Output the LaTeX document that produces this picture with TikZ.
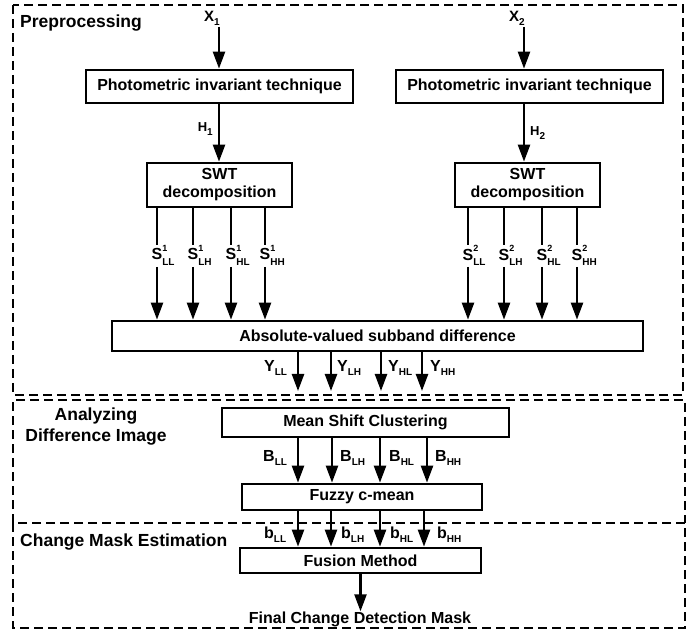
\documentclass[tikz,border=0pt]{standalone}
\usepackage{fontspec}
\setmainfont{Liberation Sans}
\usetikzlibrary{arrows.meta}
\newcommand\subl[2]{#1\raisebox{-0.5ex}{\fontsize{10}{10}\selectfont #2}}
\newcommand\ssl[3]{#1\rlap{\rlap{\raisebox{1.05ex}{\fontsize{9}{9}\selectfont #2}}\raisebox{-0.6ex}{\fontsize{10}{10}\selectfont #3}}}
\tikzset{
  blk/.style={draw, line width=2.7pt, font=\fontsize{16}{18}\selectfont\bfseries, inner sep=0pt, align=center},
  arr/.style={line width=2.4pt, -{Triangle[length=17pt,width=12pt]}},
  ln/.style={line width=2.4pt},
  zone/.style={draw, line width=1.3pt, dash pattern=on 9pt off 5pt},
  ttl/.style={font=\fontsize{17.5}{21}\selectfont\bfseries, inner sep=0pt, align=center},
  lab/.style={font=\fontsize{16}{18}\selectfont\bfseries, inner sep=0pt},
  inp/.style={font=\fontsize{15}{17}\selectfont\bfseries, inner sep=0pt},
  small/.style={font=\fontsize{13}{15}\selectfont\bfseries, inner sep=0pt},
}
\begin{document}
\begin{tikzpicture}[x=1pt,y=-1pt]
\useasboundingbox (0,0) rectangle (697,631);
% zones
\draw[zone] (13,5) rectangle (683,395);
\draw[zone] (13,523) -- (13,400) -- (685,400) -- (685,523);
\draw[zone] (13,523) rectangle (685,628);
\node[ttl, anchor=west] (tpre) at (20,23) {Preprocessing};
\node[ttl] (tana) at (96,427) {Analyzing\\Difference Image};
\node[ttl, anchor=west] (tcme) at (20,542) {Change Mask Estimation};
% boxes
\node[blk, minimum width=267pt, minimum height=33pt] (pit1) at (219.5,86.5) {Photometric invariant technique};
\node[blk, minimum width=267pt, minimum height=33pt] (pit2) at (529.5,86.5) {Photometric invariant technique};
\node[blk, minimum width=145pt, minimum height=44pt] (swt1) at (219.5,185) {SWT\\decomposition};
\node[blk, minimum width=145pt, minimum height=44pt] (swt2) at (527.5,185) {SWT\\decomposition};
\node[blk, minimum width=531pt, minimum height=30pt] (abs) at (377.5,336) {Absolute-valued subband difference};
\node[blk, minimum width=287pt, minimum height=29pt] (msc) at (365.5,422.5) {Mean Shift Clustering};
\node[blk, minimum width=240pt, minimum height=26pt] (fcm) at (362,497) {Fuzzy c-mean};
\node[blk, minimum width=241pt, minimum height=25pt] (fus) at (360.5,560.5) {Fusion Method};
\node[lab] (final) at (360,619) {Final Change Detection Mask};
% inputs
\node[inp, anchor=east] (x1) at (220,18) {\subl{X}{1}};
\node[inp, anchor=east] (x2) at (525,18) {\subl{X}{2}};
\coordinate (x1c) at (219,27);
\coordinate (x2c) at (524,27);
\draw[arr] (x1c) -- (pit1.north -| x1c);
\draw[arr] (x2c) -- (pit2.north -| x2c);
\node[small, anchor=east] (h1) at (213,129) {\subl{H}{1}};
\node[small, anchor=west] (h2) at (530,133) {\subl{H}{2}};
\draw[arr] (pit1.south -| x1c) -- (swt1.north -| x1c);
\draw[arr] (pit2.south -| x2c) -- (swt2.north -| x2c);
% SWT outputs
\foreach \nm/\x/\s/\b in {a/157/1/LL, b/193/1/LH, c/231/1/HL, d/265/1/HH, e/468/2/LL, f/504/2/LH, g/542/2/HL, h/577/2/HH}{
  \node[lab] (s\nm) at (\x,255) {\ssl{S}{\s}{\b}};
  \ifnum\s=1
    \draw[ln] (swt1.south -| s\nm) -- (\x,245);
  \else
    \draw[ln] (swt2.south -| s\nm) -- (\x,245);
  \fi
  \draw[arr] (\x,267) -- (abs.north -| s\nm);
}
% Y outputs
\foreach \nm/\x in {ll/298, lh/331, hl/381, hh/422}{
  \coordinate (y\nm) at (\x,391);
  \draw[arr] (abs.south -| y\nm) -- (y\nm);
}
\node[lab, anchor=west] (ylll) at (264,368) {\subl{Y}{LL}};
\node[lab, anchor=west] (ylhl) at (337,368) {\subl{Y}{LH}};
\node[lab, anchor=west] (yhll) at (388,368) {\subl{Y}{HL}};
\node[lab, anchor=west] (yhhl) at (430,368) {\subl{Y}{HH}};
% B outputs
\foreach \nm/\x in {ll/298, lh/332, hl/380, hh/427}{
  \coordinate (b\nm) at (\x,450);
  \draw[arr] (msc.south -| b\nm) -- (fcm.north -| b\nm);
}
\node[lab, anchor=west] (blll) at (263,458) {\subl{B}{LL}};
\node[lab, anchor=west] (blhl) at (340,458) {\subl{B}{LH}};
\node[lab, anchor=west] (bhll) at (389,458) {\subl{B}{HL}};
\node[lab, anchor=west] (bhhl) at (435,458) {\subl{B}{HH}};
% b outputs
\foreach \nm/\x in {ll/298, lh/331, hl/380, hh/424}{
  \coordinate (c\nm) at (\x,530);
  \draw[arr] (fcm.south -| c\nm) -- (fus.north -| c\nm);
}
\node[lab, anchor=west] (clll) at (264,535) {\subl{b}{LL}};
\node[lab, anchor=west] (clhl) at (341,535) {\subl{b}{LH}};
\node[lab, anchor=west] (chll) at (390,535) {\subl{b}{HL}};
\node[lab, anchor=west] (chhl) at (437,535) {\subl{b}{HH}};
% final
\draw[arr] (fus.south) -- (fus.south |- final.north);
\end{tikzpicture}
\end{document}
